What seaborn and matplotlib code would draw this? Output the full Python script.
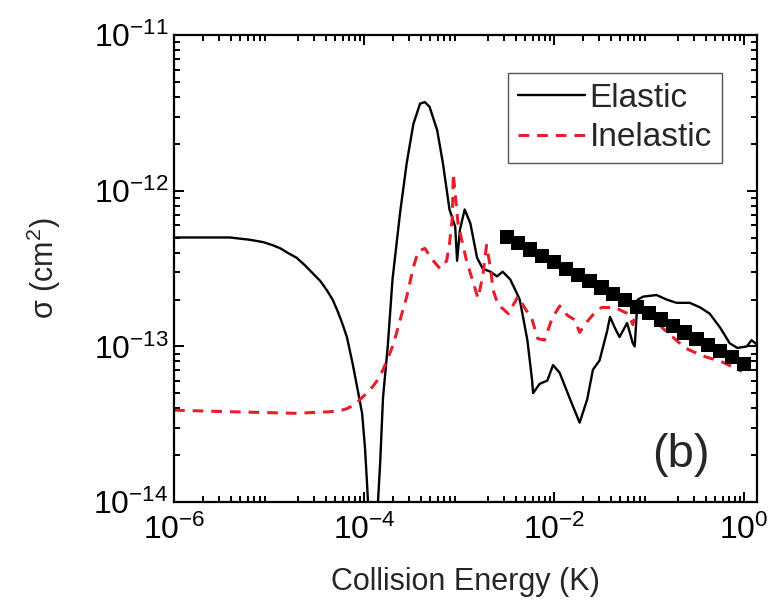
import numpy as np
import matplotlib
matplotlib.use("Agg")
import matplotlib.pyplot as plt
import seaborn as sns

# Elastic cross section (log10 E [K], log10 sigma [cm^2])
elastic_logE = [-6.0, -5.7, -5.41, -5.2, -5.06, -4.96, -4.88, -4.80, -4.71, -4.62,
                -4.54, -4.46, -4.39, -4.33, -4.28, -4.23, -4.18, -4.12,
                -4.06, -4.02, -3.99, -3.97, -3.958, -3.945, -3.865, -3.853, -3.83, -3.80,
                -3.75, -3.70, -3.62, -3.55, -3.48, -3.41, -3.36, -3.31, -3.23, -3.17,
                -3.10, -3.04, -3.02, -2.99, -2.94, -2.88, -2.81, -2.75, -2.67, -2.60,
                -2.54, -2.46, -2.39, -2.36, -2.28, -2.23, -2.22, -2.15, -2.07, -2.01,
                -1.94, -1.83, -1.73, -1.65, -1.59, -1.52, -1.44, -1.41, -1.36, -1.31,
                -1.23, -1.17, -1.15, -1.12, -1.06, -0.92, -0.81, -0.71, -0.57, -0.46,
                -0.36, -0.25, -0.15, -0.07, 0.03, 0.08, 0.14]
elastic_logS = [-12.30, -12.30, -12.30, -12.315, -12.33, -12.35, -12.37, -12.40, -12.43, -12.48,
                -12.53, -12.58, -12.64, -12.70, -12.77, -12.85, -12.94, -13.11,
                -13.30, -13.43, -13.65, -13.86, -14.00, -14.30, -14.30, -14.00, -13.75, -13.33,
                -13.00, -12.57, -12.14, -11.82, -11.57, -11.44, -11.43, -11.46, -11.61, -11.82,
                -12.12, -12.23, -12.45, -12.25, -12.12, -12.21, -12.43, -12.50, -12.52, -12.55,
                -12.52, -12.57, -12.66, -12.70, -12.96, -13.22, -13.30, -13.24, -13.22, -13.12,
                -13.17, -13.34, -13.49, -13.34, -13.15, -13.09, -12.90, -12.81, -12.88, -12.94,
                -12.85, -12.98, -13.00, -12.70, -12.68, -12.67, -12.70, -12.72, -12.72, -12.75,
                -12.79, -12.88, -12.98, -13.01, -13.00, -12.96, -12.99]

# Inelastic cross section
inelastic_logE = [-6.0, -5.41, -4.71, -4.36, -4.26, -4.18, -4.10, -4.04, -3.97, -3.91,
                  -3.85, -3.80, -3.75, -3.70, -3.66, -3.62,
                  -3.55, -3.48, -3.43, -3.36, -3.27, -3.20, -3.13, -3.10, -3.07, -3.06,
                  -3.04, -3.01, -2.97, -2.92, -2.86, -2.80, -2.75, -2.71, -2.67, -2.64,
                  -2.59, -2.48, -2.38, -2.31, -2.23, -2.17, -2.10, -2.02, -1.94, -1.86,
                  -1.78, -1.73, -1.65, -1.58, -1.50, -1.36, -1.22, -1.17, -1.12, -1.06,
                  -0.99, -0.86, -0.62, -0.44, -0.23, -0.02]
inelastic_logS = [-13.41, -13.42, -13.43, -13.42, -13.415, -13.40, -13.375, -13.34, -13.30, -13.26,
                  -13.21, -13.15, -13.08, -13.00, -12.92, -12.83,
                  -12.68, -12.49, -12.39, -12.37, -12.45, -12.50, -12.45, -12.34, -12.17, -11.89,
                  -12.02, -12.21, -12.32, -12.45, -12.57, -12.69, -12.55, -12.35, -12.49, -12.64,
                  -12.73, -12.79, -12.68, -12.75, -12.83, -12.95, -12.96, -12.82, -12.74, -12.80,
                  -12.83, -12.91, -12.84, -12.79, -12.75, -12.75, -12.79, -12.86, -12.75, -12.72,
                  -12.78, -12.88, -13.01, -13.06, -13.10, -13.16]

# Square markers
square_E = [3.2e-3, 4.2e-3, 5.6e-3, 7.5e-3, 0.010, 0.0133, 0.0178, 0.0237, 0.0316, 0.042,
            0.056, 0.075, 0.100, 0.133, 0.178, 0.237, 0.316, 0.42, 0.56, 0.75, 1.0]
square_sigma = [5.07e-13, 4.61e-13, 4.20e-13, 3.82e-13, 3.48e-13, 3.16e-13, 2.88e-13, 2.62e-13,
                2.39e-13, 2.17e-13, 1.98e-13, 1.80e-13, 1.64e-13, 1.49e-13, 1.36e-13, 1.23e-13,
                1.12e-13, 1.02e-13, 9.3e-14, 8.5e-14, 7.7e-14]

sns.set_style("ticks")
plt.rcParams['font.family'] = ['Liberation Sans', 'DejaVu Sans']
plt.rcParams['mathtext.fontset'] = 'custom'
plt.rcParams['mathtext.rm'] = 'Liberation Sans'
plt.rcParams['mathtext.it'] = 'Liberation Sans:italic'
plt.rcParams['mathtext.bf'] = 'Liberation Sans:bold'

red = '#e4202c'

fig = plt.figure(figsize=(7.68, 6.07), dpi=100)
ax = fig.add_axes([0.2266, 0.173, 0.759, 0.769])

sns.lineplot(x=10 ** np.array(elastic_logE), y=10 ** np.array(elastic_logS), ax=ax,
             color='black', lw=1.7, sort=False, estimator=None, label='Elastic')
sns.lineplot(x=10 ** np.array(inelastic_logE), y=10 ** np.array(inelastic_logS), ax=ax,
             color=red, lw=2.2, sort=False, estimator=None, linestyle=(0, (3.5, 2.6)),
             label='Inelastic')
sns.scatterplot(x=square_E, y=square_sigma, ax=ax, marker='s', s=105, color='black',
                edgecolor='none', zorder=3)

ax.set_xscale('log')
ax.set_yscale('log')
ax.set_xlim(1e-6, 1.37)
ax.set_ylim(1e-14, 1e-11)

ax.set_xticks([1e-6, 1e-4, 1e-2, 1e0])
ax.set_yticks([1e-14, 1e-13, 1e-12, 1e-11])
ax.xaxis.set_minor_locator(matplotlib.ticker.LogLocator(base=10, subs=np.arange(2, 10)))
ax.yaxis.set_minor_locator(matplotlib.ticker.LogLocator(base=10, subs=np.arange(2, 10)))
ax.xaxis.set_minor_formatter(matplotlib.ticker.NullFormatter())
ax.yaxis.set_minor_formatter(matplotlib.ticker.NullFormatter())

ax.tick_params(which='both', direction='in', top=True, right=True, width=1.4, colors='black')
ax.tick_params(which='major', length=7, labelsize=23)
ax.tick_params(which='minor', length=4)
ax.tick_params(axis='x', pad=9)
ax.tick_params(axis='y', pad=4)
for sp in ax.spines.values():
    sp.set_linewidth(1.6)
    sp.set_color('black')

ax.set_xlabel('Collision Energy (K)', fontsize=22, labelpad=15)
ax.set_ylabel(r'σ (cm$^2$)', fontsize=22, labelpad=22)

ax.text(0.87, 0.10, '(b)', transform=ax.transAxes, fontsize=34, ha='center', va='center')

leg = ax.legend(loc='upper right', bbox_to_anchor=(0.94, 0.919), borderaxespad=0,
                fontsize=24, frameon=True, fancybox=False, framealpha=1, edgecolor='#555555',
                handlelength=2.0, handletextpad=0.15, labelspacing=0.25, borderpad=0.3)
leg.get_frame().set_linewidth(1.0)

fig.savefig('out.png', dpi=100)
